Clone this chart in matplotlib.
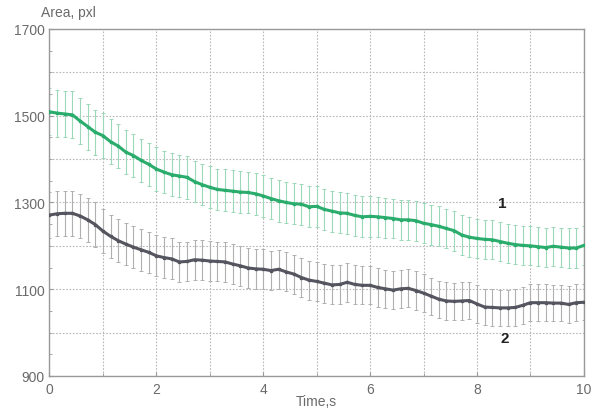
import numpy as np
import matplotlib
matplotlib.use("Agg")
import matplotlib.pyplot as plt
from matplotlib.ticker import MultipleLocator

# time samples (s)
time_s = np.arange(71) / 7.0

area_1 = [1509, 1506, 1504, 1502, 1488, 1475, 1462, 1454, 1440, 1430,
          1416, 1408, 1397, 1388, 1377, 1370, 1364, 1361, 1358, 1348,
          1341, 1335, 1330, 1328, 1326, 1324, 1323, 1320, 1315, 1309,
          1304, 1300, 1297, 1296, 1290, 1291, 1284, 1280, 1276, 1275,
          1270, 1267, 1268, 1267, 1265, 1263, 1260, 1260, 1258, 1252,
          1249, 1245, 1240, 1235, 1225, 1220, 1217, 1215, 1214, 1210,
          1206, 1203, 1201, 1200, 1198, 1196, 1199, 1197, 1195, 1195, 1201]

err_1 = [54, 54, 54, 54, 53, 53, 52, 52, 52, 51,
         51, 50, 50, 50, 50, 49, 49, 49, 49, 48,
         48, 48, 48, 48, 48, 48, 48, 48, 48, 48,
         48, 48, 47, 47, 47, 47, 47, 47, 47, 47,
         47, 47, 47, 46, 46, 46, 46, 46, 46, 46,
         46, 46, 46, 46, 46, 46, 45, 45, 45, 45,
         45, 45, 45, 45, 45, 45, 45, 45, 45, 45, 45]

area_2 = [1271, 1274, 1275, 1275, 1269, 1260, 1249, 1234, 1222, 1212,
          1204, 1197, 1191, 1185, 1177, 1173, 1170, 1163, 1164, 1168,
          1167, 1165, 1164, 1163, 1158, 1154, 1149, 1147, 1146, 1143,
          1146, 1140, 1135, 1127, 1121, 1118, 1114, 1110, 1111, 1116,
          1111, 1109, 1109, 1104, 1101, 1098, 1101, 1102, 1097, 1091,
          1084, 1077, 1073, 1072, 1073, 1074, 1066, 1059, 1058, 1057,
          1057, 1058, 1063, 1069, 1069, 1069, 1068, 1068, 1065, 1069, 1070]

err_2 = [52, 52, 52, 52, 51, 51, 51, 50, 50, 49,
         49, 48, 48, 48, 47, 47, 47, 46, 46, 46,
         46, 46, 46, 46, 46, 46, 46, 46, 46, 45,
         45, 45, 45, 45, 45, 45, 45, 45, 45, 45,
         44, 44, 44, 44, 44, 44, 44, 44, 44, 44,
         43, 43, 43, 43, 43, 43, 43, 42, 42, 42,
         42, 42, 42, 42, 42, 42, 42, 42, 42, 42, 42]

x_ticks = [0, 2, 4, 6, 8, 10]
y_ticks = [900, 1100, 1300, 1500, 1700]

plt.rcParams['font.family'] = ['Liberation Sans', 'DejaVu Sans']

fig = plt.figure(figsize=(5.94, 4.10), dpi=100)
ax = fig.add_axes([0.0833, 0.0805, 0.8997, 0.8465])

green = '#2aac6c'
green_err = '#9bd9b8'
grey = '#555560'
grey_err = '#b0b0b0'

ax.errorbar(time_s, area_1, yerr=err_1, fmt='none', ecolor=green_err,
            elinewidth=0.8, capsize=1.2, capthick=0.7, zorder=2)
ax.errorbar(time_s, area_2, yerr=err_2, fmt='none', ecolor=grey_err,
            elinewidth=0.8, capsize=1.2, capthick=0.7, zorder=2)
ax.plot(time_s, area_1, color=green, lw=2.2, marker='s', ms=1.4, zorder=3)
ax.plot(time_s, area_2, color=grey, lw=2.2, marker='s', ms=1.4, zorder=3)

ax.set_xlim(0, 10)
ax.set_ylim(900, 1700)
ax.set_xticks(x_ticks)
ax.set_yticks(y_ticks)
ax.xaxis.set_minor_locator(MultipleLocator(1))
ax.yaxis.set_minor_locator(MultipleLocator(50))

gridstyle = dict(color='#b8b8b8', linestyle=(0, (1.5, 1.5)), lw=0.8)
ax.grid(True, which='major', **gridstyle)
ax.grid(True, which='minor', axis='x', **gridstyle)
for yv in [1000, 1200, 1400, 1600]:
    ax.axhline(yv, zorder=0, **gridstyle)
ax.set_axisbelow(True)

for s in ax.spines.values():
    s.set_color('#999999')
    s.set_linewidth(1.0)

ax.tick_params(which='both', direction='in', colors='#999999', labelcolor='#6a6a6a',
               labelsize=10)
ax.tick_params(which='major', length=3)
ax.tick_params(which='minor', length=2)
ax.tick_params(axis='x', pad=4)

ax.text(0.035, 1.03, 'Area, pxl', transform=ax.transAxes, ha='center', va='bottom',
        fontsize=10, color='#6a6a6a')
ax.set_xlabel('Time,s', fontsize=10, color='#6a6a6a', labelpad=-1)

ax.text(8.48, 1298, '1', fontsize=11, fontweight='bold', color='#222222',
        ha='center', va='center')
ax.text(8.52, 988, '2', fontsize=11, fontweight='bold', color='#222222',
        ha='center', va='center')

fig.savefig('out.png', dpi=100, facecolor='white')
